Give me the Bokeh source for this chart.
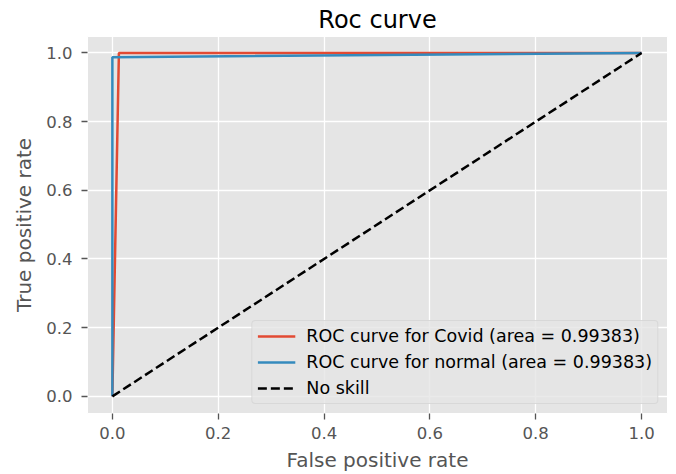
from bokeh.plotting import figure
from bokeh.models import FixedTicker, NumeralTickFormatter, Legend, LegendItem
from bokeh.embed import file_html
from bokeh.resources import INLINE

# Data
covid_fpr = [0.0, 0.01234, 1.0]
covid_tpr = [0.0, 1.0, 1.0]
normal_fpr = [0.0, 0.0, 1.0]
normal_tpr = [0.0, 0.98766, 1.0]
skill_x = [0.0, 1.0]
skill_y = [0.0, 1.0]
ticks = [0.0, 0.2, 0.4, 0.6, 0.8, 1.0]
labels = ["ROC curve for Covid (area = 0.99383)",
          "ROC curve for normal (area = 0.99383)",
          "No skill"]

FONT = "DejaVu Sans"
GREY = "#555555"

p = figure(width=676, height=474, output_backend="svg", toolbar_location=None,
           x_range=(-0.047, 1.049), y_range=(-0.05, 1.048),
           title="Roc curve",
           min_border_left=87, min_border_right=9, min_border_top=36, min_border_bottom=61)

p.background_fill_color = "#E5E5E5"
p.border_fill_color = "white"
p.outline_line_color = "white"
p.outline_line_width = 1

p.title.text_font = FONT
p.title.text_font_size = "24px"
p.title.text_font_style = "normal"
p.title.text_color = "black"
p.title.align = "center"
p.title.standoff = 6

for ax in (p.xaxis[0], p.yaxis[0]):
    ax.ticker = FixedTicker(ticks=ticks)
    ax.formatter = NumeralTickFormatter(format="0.0")
    ax.axis_line_color = None
    ax.major_tick_in = 0
    ax.major_tick_out = 6
    ax.major_tick_line_color = GREY
    ax.major_tick_line_width = 1.3
    ax.minor_tick_line_color = None
    ax.major_label_text_font = FONT
    ax.major_label_text_font_size = "16.5px"
    ax.major_label_text_color = GREY
    ax.axis_label_text_font = FONT
    ax.axis_label_text_font_size = "20px"
    ax.axis_label_text_font_style = "normal"
    ax.axis_label_text_color = GREY

p.xaxis.axis_label = "False positive rate"
p.yaxis.axis_label = "True positive rate"
p.xaxis.major_label_standoff = 7
p.xaxis.axis_label_standoff = 6
p.yaxis.major_label_standoff = 9
p.yaxis.axis_label_standoff = 7

p.grid.grid_line_color = "white"
p.grid.grid_line_width = 1.3

r1 = p.line(covid_fpr, covid_tpr, line_color="#E24A33", line_width=2.5)
r2 = p.line(normal_fpr, normal_tpr, line_color="#348ABD", line_width=2.5)
r3 = p.line(skill_x, skill_y, line_color="black", line_width=2.5, line_dash="9 4")

legend = Legend(items=[LegendItem(label=labels[0], renderers=[r1]),
                       LegendItem(label=labels[1], renderers=[r2]),
                       LegendItem(label=labels[2], renderers=[r3])],
                location="bottom_right")
legend.margin = 9
legend.padding = 5
legend.spacing = 6
legend.label_height = 20
legend.glyph_height = 20
legend.glyph_width = 38
legend.label_standoff = 11
legend.label_text_font = FONT
legend.label_text_font_size = "17.5px"
legend.label_text_color = "black"
legend.background_fill_color = "#E5E5E5"
legend.background_fill_alpha = 0.8
legend.border_line_color = "#CCCCCC"
legend.border_line_width = 1
legend.border_radius = 4
p.add_layout(legend, "center")

open("out.html", "w").write(file_html(p, INLINE))
